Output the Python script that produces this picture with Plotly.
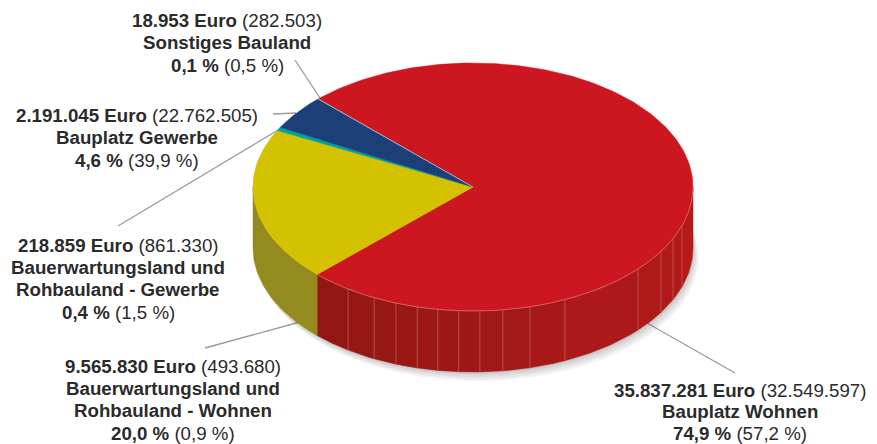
import math
import plotly.graph_objects as go

# ---- data ----
categories = ["Bauplatz Wohnen", "Bauerwartungsland und Rohbauland - Wohnen",
              "Bauerwartungsland und Rohbauland - Gewerbe", "Bauplatz Gewerbe", "Sonstiges Bauland"]
values = [35837281, 9565830, 218859, 2191045, 18953]
slice_colors = ["#CC1720", "#D4C100", "#00A3A1", "#1C3F77", "#C9C9C9"]
rim_colors = ["#B01A1A", "#958A1E", "#00807E", "#142F5A", "#999999"]
rim_seam_degrees = [108.2, 114.6, 121.3, 131.4, 155.3, 165, 172.2, 178.2,
                    183.7, 189.2, 194.7, 200.5, 206.7, 214.6]

label_lines = [
    ["<b>18.953 Euro</b> (282.503)", "<b>Sonstiges Bauland</b>", "<b>0,1 %</b> (0,5 %)"],
    ["<b>2.191.045 Euro</b> (22.762.505)", "<b>Bauplatz Gewerbe</b>", "<b>4,6 %</b> (39,9 %)"],
    ["<b>218.859 Euro</b> (861.330)", "<b>Bauerwartungsland und</b>",
     "<b>Rohbauland - Gewerbe</b>", "<b>0,4 %</b> (1,5 %)"],
    ["<b>9.565.830 Euro</b> (493.680)", "<b>Bauerwartungsland und</b>",
     "<b>Rohbauland - Wohnen</b>", "<b>20,0 %</b> (0,9 %)"],
    ["<b>35.837.281 Euro</b> (32.549.597)", "<b>Bauplatz Wohnen</b>", "<b>74,9 %</b> (57,2 %)"],
]

# ---- layout geometry ----
W, H = 877, 444
CX, CY, RX, RY, DEPTH = 473, 187, 220, 124, 61
START = -44.6
label_anchor = [(227, 20), (137, 115), (118, 245), (172.5, 366), (740, 390)]
line_steps = [22.5, 22.5, 22.4, 22.4, 21.7]
leaders = [((295, 60), (320, 98)), ((273, 114), (296, 113)), ((118, 226), (278, 130)),
           ((205, 348), (300, 322)), ((647, 323), (735, 373))]


def pt(deg, dx=0, dy=0):
    a = math.radians(deg)
    return CX + RX * math.sin(a) + dx, CY - RY * math.cos(a) + dy


def arc(a0, a1, dx=0, dy=0):
    n = max(2, int(abs(a1 - a0) / 1.0) + 1)
    return [pt(a0 + (a1 - a0) * i / (n - 1), dx, dy) for i in range(n)]


def poly(points, color, line=None):
    xs = [p[0] for p in points] + [points[0][0]]
    ys = [p[1] for p in points] + [points[0][1]]
    return go.Scatter(x=xs, y=ys, mode="lines", fill="toself", fillcolor=color,
                      line=dict(color=line or color, width=0.5 if line else 0),
                      hoverinfo="skip", showlegend=False)


def mix(c0, c1, t):
    a = [int(c0[i:i + 2], 16) for i in (1, 3, 5)]
    b = [int(c1[i:i + 2], 16) for i in (1, 3, 5)]
    return "#%02x%02x%02x" % tuple(round(a[i] + (b[i] - a[i]) * t) for i in range(3))


fig = go.Figure()

# leader lines
for (p0, p1) in leaders:
    fig.add_trace(go.Scatter(x=[p0[0], p1[0]], y=[p0[1], p1[1]], mode="lines",
                             line=dict(color="#9A9A9A", width=1.3),
                             hoverinfo="skip", showlegend=False))

# soft shadow below the rim
for off in (9, 7, 5, 3, 1.5):
    sil = arc(60, 285, off * 0.6, DEPTH + off) + arc(285, 60, 0, 0)
    fig.add_trace(poly(sil, "rgba(60,40,40,0.055)"))

# slice angles
total = sum(values)
bounds = [START]
for v in values:
    bounds.append(bounds[-1] + v / total * 360)

# rim, only the front half (90..270 deg) is visible
for i in range(len(values)):
    a0, a1 = max(bounds[i], 90), min(bounds[i + 1], 270)
    if a1 <= a0:
        continue
    if i == 0:
        edges = [a0] + [s for s in rim_seam_degrees if a0 < s < a1] + [a1]
        for j in range(len(edges) - 1):
            t = (edges[j] - 90) / (a1 - 90)
            col = mix("#B41A1A", "#8E1711", t ** 1.4)
            fig.add_trace(poly(arc(edges[j], edges[j + 1]) + arc(edges[j + 1], edges[j], 0, DEPTH), col, col))
    else:
        fig.add_trace(poly(arc(a0, a1) + arc(a1, a0, 0, DEPTH), rim_colors[i], rim_colors[i]))

# seams on the rim
for s in rim_seam_degrees:
    x0, y0 = pt(s)
    fig.add_trace(go.Scatter(x=[x0, x0], y=[y0, y0 + DEPTH], mode="lines",
                             line=dict(color="rgba(235,170,170,0.45)", width=0.8),
                             hoverinfo="skip", showlegend=False))

# top face
for i in range(len(values)):
    fig.add_trace(poly([(CX, CY)] + arc(bounds[i], bounds[i + 1]), slice_colors[i], slice_colors[i]))

# light edge on the red top
ed = arc(90, bounds[1])
fig.add_trace(go.Scatter(x=[p[0] for p in ed], y=[p[1] for p in ed], mode="lines",
                         line=dict(color="rgba(240,150,150,0.7)", width=0.7),
                         hoverinfo="skip", showlegend=False))

annotations = []
for lines, (x, y), step in zip(label_lines, label_anchor, line_steps):
    for k, txt in enumerate(lines):
        annotations.append(dict(x=x, y=y + k * step, xref="x", yref="y", text=txt,
                                showarrow=False, xanchor="center", yanchor="middle",
                                font=dict(family="Liberation Sans, Arial, sans-serif",
                                          size=18.7, color="#2B2B2B")))

fig.update_layout(
    width=W, height=H, autosize=False, margin=dict(l=0, r=0, t=0, b=0),
    paper_bgcolor="white", plot_bgcolor="white", showlegend=False,
    xaxis=dict(range=[0, W], visible=False, fixedrange=True),
    yaxis=dict(range=[H, 0], visible=False, fixedrange=True),
    annotations=annotations,
)
fig.write_html("out.html", config=dict(displayModeBar=False),
               post_script="document.body.style.margin='0';document.documentElement.style.overflow='hidden';")
